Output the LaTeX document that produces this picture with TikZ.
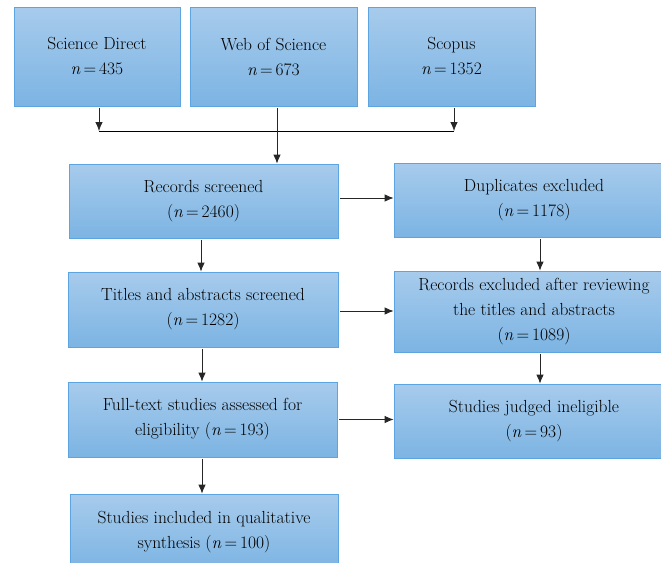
\documentclass[tikz,border=0pt]{standalone}
\usetikzlibrary{positioning,arrows.meta}
\definecolor{boxtop}{RGB}{167,203,236}
\definecolor{boxbot}{RGB}{124,180,227}
\definecolor{boxline}{RGB}{92,165,224}
\newcommand{\ncount}[1]{\textit{n}\,=\,#1}
\tikzset{
  box/.style={rectangle, draw=boxline, line width=0.8pt, top color=boxtop, bottom color=boxbot,
    align=center, inner sep=2pt, font=\fontsize{17.5}{25}\selectfont},
  arr/.style={-{Latex[length=9pt,width=7.5pt]}, draw=black!85, line width=0.8pt, shorten <=2pt}
}
\begin{document}
\begin{tikzpicture}[x=1pt, y=-1pt]
  \useasboundingbox (0,0) rectangle (661,562);
  % Datenbanken
  \node[box, minimum width=166, minimum height=99] (sd) at (97,56.5) {Science Direct\\\ncount{435}};
  \node[box, minimum width=167, minimum height=99] (wos) at (273.5,56.5) {Web of Science\\\ncount{673}};
  \node[box, minimum width=167, minimum height=99] (scp) at (451.5,56.5) {Scopus\\\ncount{1352}};
  \coordinate (jl) at (99,131);
  \coordinate (jr) at (454,131);
  % linke Spalte
  \node[box, minimum width=269, minimum height=74] (rec) at (203.5,201) {Records screened\\(\ncount{2460})};
  \node[box, minimum width=270, minimum height=75] (tit) at (203,309.5) {Titles and abstracts screened\\(\ncount{1282})};
  \node[box, minimum width=269, minimum height=75] (ful) at (202.5,419.5) {Full-text studies assessed for\\eligibility (\ncount{193})};
  \node[box, minimum width=268, minimum height=76] (inc) at (204,532) {Studies included in qualitative\\synthesis (\ncount{100})};
  % rechte Spalte (rechts abgeschnitten)
  \node[box, minimum width=280, minimum height=74] (dup) at (534,200) {Duplicates excluded\\(\ncount{1178})};
  \node[box, minimum width=280, minimum height=81] (rex) at (534,311.5) {Records excluded after reviewing\\the titles and abstracts\\(\ncount{1089})};
  \node[box, minimum width=280, minimum height=74] (jud) at (534,421) {Studies judged ineligible\\(\ncount{93})};
  % Pfeile
  \draw[arr] (sd.south -| jl) -- (jl);
  \draw[arr] (scp.south -| jr) -- (jr);
  \draw[line width=0.8pt] (jl) -- (jr);
  \draw[arr] ([xshift=3.5pt]wos.south) -- ([xshift=3.5pt]wos.south |- rec.north);
  \draw[arr] ([yshift=3pt]rec.east) -- ([yshift=3pt]rec.east -| dup.west);
  \draw[arr] ([yshift=-1.5pt]tit.east) -- ([yshift=-1.5pt]tit.east -| rex.west);
  \draw[arr] (ful.east) -- (ful.east -| jud.west);
  \draw[arr] (rec.south -| 201,0) -- (tit.north -| 201,0);
  \draw[arr] (tit.south -| 202,0) -- (ful.north -| 202,0);
  \draw[arr] (ful.south -| 202,0) -- (inc.north -| 202,0);
  \draw[arr] (dup.south -| 540,0) -- (rex.north -| 540,0);
  \draw[arr] (rex.south -| 540,0) -- (jud.north -| 540,0);
\end{tikzpicture}
\end{document}
